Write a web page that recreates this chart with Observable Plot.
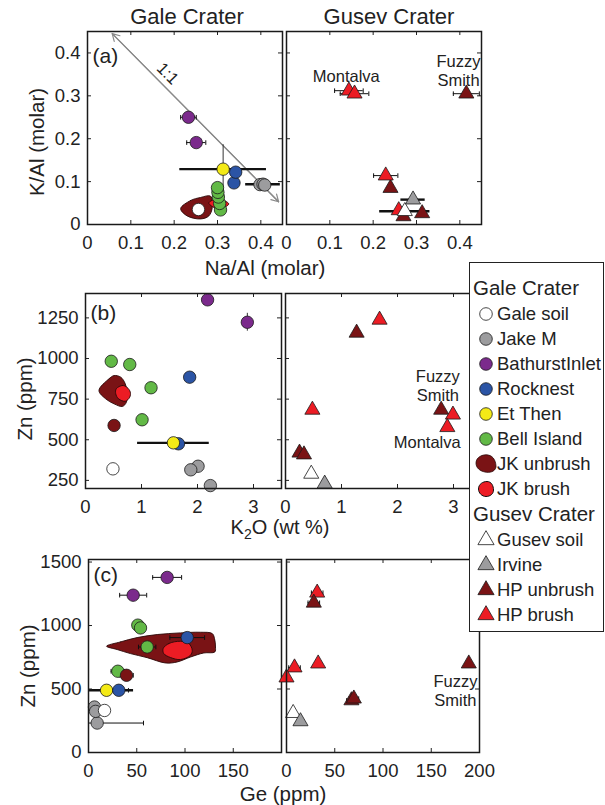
<!DOCTYPE html>
<html><head><meta charset="utf-8">
<script src="https://cdn.jsdelivr.net/npm/d3@7"></script>
<script src="https://cdn.jsdelivr.net/npm/@observablehq/plot@0.6"></script>
<style>
html,body{margin:0;padding:0;background:#fff;}
#fig{position:relative;width:605px;height:805px;overflow:hidden;font-family:"Liberation Sans",Arial,Helvetica,sans-serif;color:#222;}
.lbl{position:absolute;white-space:nowrap;line-height:1;}
</style></head><body><div id="fig"></div>
<script>
// ---------- series ----------
const seriesNames = ["Gale soil","Jake M","BathurstInlet","Rocknest","Et Then","Bell Island","JK unbrush","JK brush","Gusev soil","Irvine","HP unbrush","HP brush"];
const seriesFills = ["#ffffff","#9c9c9e","#7b2a8c","#2b54a5","#f4ea16","#62b946","#7a1315","#ec1c24","#ffffff","#9c9c9e","#7a1315","#ec1c24"];

// ---------- tick values ----------
const ticksA = [0, 0.1, 0.2, 0.3, 0.4];
const ticksBx = [0, 1, 2, 3];
const ticksBy = [250, 500, 750, 1000, 1250];
const ticksCx = [0, 50, 100, 150];
const ticksCxRight = [0, 50, 100, 150, 200];
const ticksCy = [0, 500, 1000, 1500];

// ---------- panel (a): Na/Al vs K/Al  [series, x, y, xErr, yErr] ----------
const galeA = [
  ["Jake M", 0.398, 0.093], ["Jake M", 0.405, 0.094, 0.04, 0], ["Jake M", 0.409, 0.092],
  ["BathurstInlet", 0.233, 0.250, 0.018, 0.006], ["BathurstInlet", 0.251, 0.191, 0.022, 0],
  ["Rocknest", 0.338, 0.097], ["Rocknest", 0.342, 0.122],
  ["Et Then", 0.313, 0.129, 0.1, 0.057],
  ["Bell Island", 0.307, 0.034], ["Bell Island", 0.305, 0.049], ["Bell Island", 0.302, 0.064],
  ["Bell Island", 0.301, 0.075], ["Bell Island", 0.300, 0.086],
  ["Gale soil", 0.256, 0.035]
];
const gusevA = [
  ["HP brush", 0.259, 0.033], ["HP unbrush", 0.270, 0.019], ["HP unbrush", 0.313, 0.026],
  ["Gusev soil", 0.273, 0.031, 0.058, 0], ["Irvine", 0.292, 0.058, 0.028, 0],
  ["HP unbrush", 0.240, 0.085], ["HP brush", 0.229, 0.114, 0.028, 0],
  ["HP brush", 0.144, 0.312, 0.033, 0], ["HP brush", 0.157, 0.305, 0.033, 0],
  ["HP unbrush", 0.415, 0.305, 0.03, 0]
];
const jkUnbrushA = [[0.215,0.037],[0.238,0.056],[0.261,0.063],[0.284,0.066],[0.288,0.040],[0.280,0.020],[0.261,0.013],[0.230,0.020]];
const jkBrushA = [[0.280,0.050],[0.300,0.060],[0.326,0.048],[0.303,0.036]];
const oneToOne = [[0.057, 0.445], [0.441, 0.053]];

// ---------- panel (b): K2O vs Zn ----------
const galeB = [
  ["Jake M", 2.23, 218], ["Jake M", 2.01, 337], ["Jake M", 1.88, 315],
  ["Gale soil", 0.49, 321],
  ["BathurstInlet", 2.18, 1361], ["BathurstInlet", 2.89, 1223, 0.08, 55],
  ["Rocknest", 1.86, 885], ["Rocknest", 1.66, 475],
  ["Et Then", 1.57, 481, 0.64, 30],
  ["Bell Island", 0.46, 983], ["Bell Island", 0.79, 963], ["Bell Island", 1.17, 820], ["Bell Island", 1.01, 623],
  ["JK unbrush", 0.51, 588]
];
const gusevB = [
  ["HP unbrush", 0.25, 420], ["HP unbrush", 0.33, 409],
  ["Gusev soil", 0.46, 290], ["Irvine", 0.70, 229],
  ["HP brush", 0.48, 684],
  ["HP unbrush", 1.27, 1158], ["HP brush", 1.68, 1238],
  ["HP unbrush", 2.78, 684], ["HP brush", 2.99, 654], ["HP brush", 2.89, 577]
];
const jkUnbrushB = [[0.24,803],[0.42,875],[0.51,895],[0.63,885],[0.71,844],[0.74,783],[0.73,731],[0.66,705],[0.51,721],[0.36,752]];
const jkBrushB = [[0.55,814],[0.66,834],[0.74,823],[0.80,793],[0.79,762],[0.71,737],[0.59,752],[0.54,783]];

// ---------- panel (c): Ge vs Zn ----------
const galeC = [
  ["Jake M", 9, 232, 48, 0], ["Jake M", 6.2, 358], ["Jake M", 7.3, 324],
  ["Gale soil", 16.6, 331],
  ["BathurstInlet", 81.5, 1379, 15, 0], ["BathurstInlet", 46.3, 1239, 14, 40],
  ["Bell Island", 51.1, 1003], ["Bell Island", 53.9, 981],
  ["Bell Island", 60.8, 831, 9, 0], ["Bell Island", 30.4, 640, 7, 0],
  ["JK unbrush", 39.4, 608, 7, 0],
  ["Rocknest", 102.3, 905, 18, 0],
  ["Et Then", 18.7, 490, 28, 0],
  ["Rocknest", 31.4, 490, 10, 0]
];
const gusevC = [
  ["HP brush", 31.8, 1258, 6, 0], ["HP unbrush", 28.3, 1179, 6, 0],
  ["HP brush", 32.8, 700], ["HP brush", 8.3, 669, 6, 0], ["HP brush", 0, 590],
  ["HP unbrush", 67.3, 410, 5, 0], ["HP unbrush", 69.8, 424, 5, 0],
  ["Gusev soil", 6.9, 310], ["Irvine", 14.5, 245],
  ["HP unbrush", 188.9, 700]
];
const jkUnbrushC = [[18.7,837],[33.2,871],[50.4,905],[71.2,929],[95.3,942],[116,947],[128.2,937],[130.6,897],[131.6,831],[130.9,792],[119.5,784],[105.7,752],[91.9,713],[79.8,705],[60.8,747],[43.5,779],[29.7,811]];
const jkBrushC = [[77.4,819],[83.2,858],[95.3,876],[104,858],[107.5,805],[105.7,766],[95.3,732],[85,748],[78,779]];

// ---------- annotations ----------
const notesA = [["Montalva", 0.138, 0.347], ["Fuzzy\nSmith", 0.397, 0.359]];
const notesB = [["Fuzzy\nSmith", 2.72, 836], ["Montalva", 2.53, 489]];
const notesC = [["Fuzzy\nSmith", 175, 489]];

// ---------- rendering ----------
const fig = document.getElementById("fig");
const FONT = '"Liberation Sans", Arial, Helvetica, sans-serif';
const INK = "#222";
const capSymbol = {draw(ctx, size) { const h = Math.sqrt(size) / 2; ctx.moveTo(0, -h); ctx.lineTo(0, h); }};
const capSymbolH = {draw(ctx, size) { const h = Math.sqrt(size) / 2; ctx.moveTo(-h, 0); ctx.lineTo(h, 0); }};

function panel(o) {
  const mL = 62, mR = 14, mT = 14, mB = 44;
  const [fx, fy, w, h] = o.frame;
  const rows = o.data.map(([s, x, y, xe = 0, ye = 0]) => ({s, x, y, xe, ye}));
  const thick = o.thick || new Set();
  const xe = rows.filter(d => d.xe > 0), ye = rows.filter(d => d.ye > 0);
  const thinX = xe.filter(d => !thick.has(d.s));
  const marks = [];
  (o.blobs || []).forEach(b => marks.push(Plot.line(b.points, {
    x: d => d[0], y: d => d[1], fill: b.fill, stroke: "#2a0808", strokeWidth: 0.9, curve: "catmull-rom-closed"
  })));
  if (o.extra) marks.push(...o.extra);
  marks.push(Plot.ruleY(xe, {
    y: "y", x1: d => d.x - d.xe, x2: d => d.x + d.xe, stroke: "#111",
    strokeWidth: d => thick.has(d.s) ? 2.4 : 1, clip: true
  }));
  marks.push(Plot.dot(thinX, {x: d => d.x - d.xe, y: "y", symbol: capSymbol, r: 2.6, stroke: "#111", strokeWidth: 1, clip: true}));
  marks.push(Plot.dot(thinX, {x: d => d.x + d.xe, y: "y", symbol: capSymbol, r: 2.6, stroke: "#111", strokeWidth: 1, clip: true}));
  marks.push(Plot.ruleX(ye, {
    x: "x", y1: d => d.y - d.ye, y2: d => d.y + d.ye, stroke: "#333", strokeWidth: 1, clip: true
  }));
  marks.push(Plot.dot(rows, {x: "x", y: "y", fill: "s", symbol: o.symbol, r: o.r, stroke: "#1a1a1a", strokeWidth: 0.8}));
  if (o.notes) marks.push(Plot.text(o.notes, {x: d => d[1], y: d => d[2], text: d => d[0], fontSize: 16.5, lineHeight: 1.17, fill: INK}));
  marks.push(
    Plot.ruleX(o.xTickMarks, {x: d => d, insetTop: h - 4, stroke: INK}),
    Plot.ruleX(o.xTickMarks, {x: d => d, insetBottom: h - 4, stroke: INK}),
    Plot.ruleY(o.yTickMarks, {y: d => d, insetRight: w - 4, stroke: INK}),
    Plot.ruleY(o.yTickMarks, {y: d => d, insetLeft: w - 4, stroke: INK}),
    Plot.frame({stroke: "#1a1a1a", strokeWidth: 1.5})
  );
  if (o.tag) marks.push(Plot.text([o.tag[0]], {frameAnchor: "top-left", text: d => d, dx: o.tag[1], dy: o.tag[2], lineAnchor: "top", textAnchor: "start", fontSize: 21, fill: INK}));
  const svg = Plot.plot({
    width: mL + w + mR, height: mT + h + mB,
    marginLeft: mL, marginRight: mR, marginTop: mT, marginBottom: mB,
    style: {background: "transparent", overflow: "visible", fontFamily: FONT, fontSize: "18.5px", color: INK},
    x: {domain: o.xDomain, ticks: o.xTickLabels, tickSize: 0, tickPadding: 11, tickFormat: d => String(d), label: null},
    y: o.yTickLabels
      ? {domain: o.yDomain, ticks: o.yTickLabels, tickSize: 0, tickPadding: 7, tickFormat: d => String(d), label: null}
      : {domain: o.yDomain, axis: null},
    color: {type: "ordinal", domain: seriesNames, range: seriesFills},
    marks
  });
  svg.style.position = "absolute";
  svg.style.left = (fx - mL) + "px";
  svg.style.top = (fy - mT) + "px";
  svg.style.maxWidth = "none";
  fig.appendChild(svg);
}

const arrows = [
  {x1: oneToOne[0][0], y1: oneToOne[0][1], x2: oneToOne[1][0], y2: oneToOne[1][1]},
  {x1: oneToOne[1][0], y1: oneToOne[1][1], x2: oneToOne[0][0], y2: oneToOne[0][1]}
];

// (a)
panel({frame: [87, 31, 195, 193], xDomain: [0, 0.45], yDomain: [0, 0.45],
  xTickLabels: ticksA, yTickLabels: ticksA, xTickMarks: ticksA, yTickMarks: ticksA,
  data: galeA, symbol: "circle", r: 6.2, tag: ["(a)", 5, 17],
  thick: new Set(["Et Then", "Jake M"]),
  blobs: [{points: jkUnbrushA, fill: "#7a1315"}, {points: jkBrushA, fill: "#ec1c24"}],
  extra: [
    Plot.arrow(arrows, {x1: "x1", y1: "y1", x2: "x2", y2: "y2", stroke: "#8a8a8a", strokeWidth: 1.2, headLength: 10}),
    Plot.text(["1:1"], {x: () => 0.185, y: () => 0.352, text: d => d, rotate: 45, fontSize: 16.5, fill: INK})
  ]});
panel({frame: [286, 31, 195, 193], xDomain: [0, 0.45], yDomain: [0, 0.45],
  xTickLabels: ticksA, xTickMarks: ticksA, yTickMarks: ticksA,
  data: gusevA, symbol: "triangle", r: 5.6, notes: notesA,
  thick: new Set(["Irvine", "Gusev soil"])});

// (b)
panel({frame: [85, 293, 196, 195], xDomain: [0, 3.5], yDomain: [200, 1400],
  xTickLabels: ticksBx, yTickLabels: ticksBy, xTickMarks: ticksBx, yTickMarks: ticksBy,
  data: galeB, symbol: "circle", r: 6.2, tag: ["(b)", 5, 12],
  thick: new Set(["Et Then"]),
  blobs: [{points: jkUnbrushB, fill: "#7a1315"}, {points: jkBrushB, fill: "#ec1c24"}]});
panel({frame: [285, 293, 196, 195], xDomain: [0, 3.5], yDomain: [200, 1400],
  xTickLabels: ticksBx, xTickMarks: ticksBx, yTickMarks: ticksBy,
  data: gusevB, symbol: "triangle", r: 5.6, notes: notesB});

// (c)
panel({frame: [88, 559, 193, 193], xDomain: [0, 200], yDomain: [0, 1520],
  xTickLabels: ticksCx, yTickLabels: ticksCy, xTickMarks: ticksCx, yTickMarks: ticksCy,
  data: galeC, symbol: "circle", r: 6.2, tag: ["(c)", 5, 8],
  thick: new Set(["Et Then"]),
  blobs: [{points: jkUnbrushC, fill: "#7a1315"}, {points: jkBrushC, fill: "#ec1c24"}]});
panel({frame: [286, 559, 193, 193], xDomain: [0, 200], yDomain: [0, 1520],
  xTickLabels: ticksCxRight, xTickMarks: ticksCxRight, yTickMarks: ticksCy,
  data: gusevC, symbol: "triangle", r: 5.6, notes: notesC});

// ---------- text labels ----------
function addLabel(html, cx, cy, size, rot = 0) {
  const d = document.createElement("div");
  d.className = "lbl";
  d.style.left = cx + "px"; d.style.top = cy + "px"; d.style.fontSize = size + "px";
  d.style.transform = `translate(-50%,-50%) rotate(${rot}deg)`;
  d.innerHTML = html;
  fig.appendChild(d);
}
addLabel("Gale Crater", 187, 17, 22);
addLabel("Gusev Crater", 389, 17, 22);
addLabel("Na/Al (molar)", 265, 268, 20.5);
addLabel("K/Al (molar)", 37, 142, 20.5, -90);
addLabel("Zn (ppm)", 25, 399, 20.5, -90);
addLabel('K<sub style="font-size:0.7em;vertical-align:-0.35em;line-height:0">2</sub>O (wt %)', 280, 527, 20);
addLabel("Zn (ppm)", 28, 666, 20.5, -90);
addLabel("Ge (ppm)", 283, 794, 20.5);

// ---------- legend ----------
const legendGroups = [
  {title: "Gale Crater", items: seriesNames.slice(0, 8)},
  {title: "Gusev Crater", items: seriesNames.slice(8)}
];
const lg = d3.create("svg").attr("width", 136).attr("height", 371)
  .style("position", "absolute").style("left", "469px").style("top", "262px")
  .style("font-family", FONT);
lg.append("rect").attr("x", 0.5).attr("y", 0.5).attr("width", 134).attr("height", 369)
  .attr("fill", "#fff").attr("stroke", INK).attr("stroke-width", 1);
let ly = 26;
legendGroups.forEach((g, gi) => {
  lg.append("text").attr("x", 4).attr("y", ly).attr("dy", "0.35em").attr("font-size", 20.5).attr("fill", INK).text(g.title);
  ly += 26;
  g.items.forEach(name => {
    const fill = seriesFills[seriesNames.indexOf(name)];
    const gg = lg.append("g").attr("transform", `translate(17,${ly})`);
    if (gi === 1) {
      gg.append("path").attr("d", d3.symbol(d3.symbolTriangle, Math.PI * 6 * 6)()).attr("fill", fill).attr("stroke", "#1a1a1a").attr("stroke-width", 0.8);
    } else if (name === "JK unbrush") {
      gg.append("path").attr("d", "M-10,-1 C-10,-7 -3,-10 2,-9 C8,-8 10,-2 10,3 C9,8 3,9 -1,8 C-6,7 -10,4 -10,-1Z").attr("fill", fill).attr("stroke", "#2a0808").attr("stroke-width", 0.8);
    } else if (name === "JK brush") {
      gg.append("path").attr("d", "M-7.5,0 C-7.5,-5 -3,-7.5 1,-7.5 C5.5,-7.5 7.5,-3 7.5,1 C7.5,5 4,7.5 0,7.5 C-4,7.5 -7.5,4 -7.5,0Z").attr("fill", fill).attr("stroke", "#111").attr("stroke-width", 1);
    } else {
      gg.append("circle").attr("r", 6.3).attr("fill", fill).attr("stroke", "#1a1a1a").attr("stroke-width", 0.8);
    }
    lg.append("text").attr("x", 28).attr("y", ly).attr("dy", "0.35em").attr("font-size", 18.5).attr("fill", INK).text(name);
    ly += 25;
  });
});
fig.appendChild(lg.node());
</script></body></html>
